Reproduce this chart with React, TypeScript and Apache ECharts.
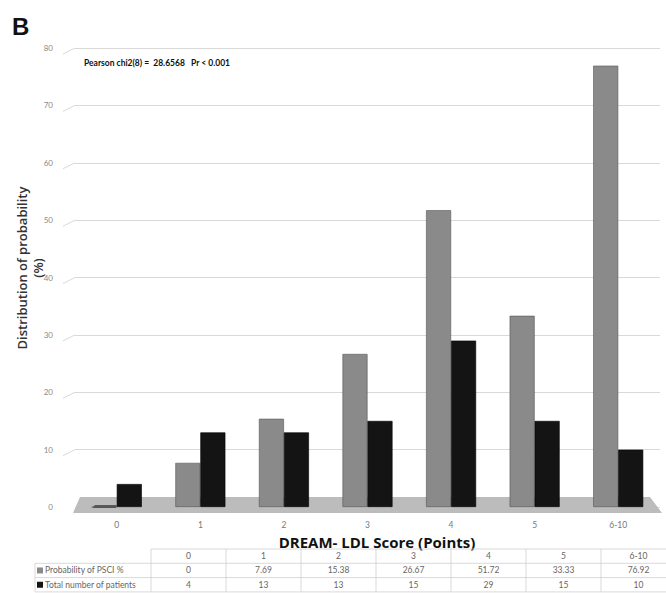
import React, { useEffect, useRef } from "react";
import * as echarts from "echarts";

const categories = ["0", "1", "2", "3", "4", "5", "6-10"];
const probabilityPSCI = [0, 7.69, 15.38, 26.67, 51.72, 33.33, 76.92];
const totalPatients = [4, 13, 13, 15, 29, 15, 10];
const seriesNames = ["Probability of PSCI %", "Total number of patients"];
const yTicks = [0, 10, 20, 30, 40, 50, 60, 70, 80];

const GRAY = "#8a8a8a";
const BLACK = "#141414";

export default function App() {
  const ref = useRef<HTMLDivElement>(null);
  useEffect(() => {
    if (!ref.current) return;
    const chart = echarts.init(ref.current, null, { renderer: "svg" });
    const gridLeft = 75;
    const gridRight = 6;
    const gridTop = 48;
    const gridBottom = 86;
    chart.setOption({
      animation: false,
      backgroundColor: "#ffffff",
      grid: { left: gridLeft, right: gridRight, top: gridTop, bottom: gridBottom },
      xAxis: {
        type: "category",
        data: categories,
        axisLine: { show: false },
        axisTick: { show: false },
        axisLabel: { color: "#777", fontSize: 8.5, margin: 13, fontFamily: "Lato" },
      },
      yAxis: {
        type: "value",
        min: 0,
        max: 80,
        interval: 10,
        axisLine: { show: false },
        axisTick: { show: false },
        axisLabel: { color: "#888", fontSize: 8, margin: 22, fontFamily: "Lato" },
        splitLine: { lineStyle: { color: "#d9d9d9", width: 1 } },
      },
      series: [
        {
          name: seriesNames[0],
          type: "bar",
          data: probabilityPSCI,
          barWidth: 25,
          barGap: "0%",
          z: 3,
          itemStyle: { color: GRAY, borderColor: "#555", borderWidth: 0.6 },
        },
        {
          name: seriesNames[1],
          type: "bar",
          data: totalPatients,
          barWidth: 25,
          barGap: "0%",
          z: 3,
          itemStyle: { color: BLACK, borderColor: "#000", borderWidth: 0.6 },
        },
      ],
    });

    const y0 = chart.convertToPixel({ yAxisIndex: 0 }, 0) as number;
    const xL = gridLeft;
    const xR = 666 - gridRight;
    const graphics: any[] = [];
    graphics.push({
      type: "polygon",
      z: 1,
      shape: {
        points: [
          [xL + 5, y0 - 10],
          [xR - 10, y0 - 10],
          [xR + 2, y0 + 6],
          [xL - 2, y0 + 6],
        ],
      },
      style: { fill: "#bcbcbc" },
    });
    yTicks.forEach((v) => {
      const y = chart.convertToPixel({ yAxisIndex: 0 }, v) as number;
      if (v === 0) return;
      graphics.push({
        type: "line",
        z: 1,
        shape: { x1: xL - 12, y1: y + 6, x2: xL, y2: y },
        style: { stroke: "#d9d9d9", lineWidth: 1 },
      });
    });
    const x0 = chart.convertToPixel({ xAxisIndex: 0 }, categories[0]) as number;
    graphics.push({
      type: "polygon",
      z: 2,
      shape: { points: [[x0 - 22, y0 - 2], [x0, y0 - 2], [x0 - 1, y0 + 1], [x0 - 24, y0 + 1]] },
      style: { fill: "#5a5a5a" },
    });
    graphics.push({
      type: "text",
      x: 12,
      y: 14,
      style: { text: "B", font: "bold 24px 'Liberation Sans', Arial, sans-serif", fill: "#111" },
    });
    graphics.push({
      type: "text",
      x: 84,
      y: 63,
      style: {
        text: "Pearson chi2(8) =  28.6568   Pr < 0.001",
        font: "bold 8.5px Lato, sans-serif",
        fill: "#111",
        textVerticalAlign: "middle",
      },
    });
    graphics.push({
      type: "text",
      x: 30,
      y: 268,
      rotation: Math.PI / 2,
      style: {
        text: "Distribution of probability\n(%)",
        font: "600 13px 'Open Sans', sans-serif",
        fill: "#333",
        align: "center",
        verticalAlign: "middle",
        lineHeight: 16,
      },
    });
    graphics.push({
      type: "text",
      x: 377,
      y: 542,
      style: {
        text: "DREAM- LDL Score (Points)",
        font: "bold 15px 'Open Sans', sans-serif",
        fill: "#111",
        align: "center",
        verticalAlign: "middle",
      },
    });
    const tL = 151;
    const colW = 75;
    const rowH = 14.3;
    const tTop = 549;
    const headL = 35;
    const lineStyle = { stroke: "#cfcfcf", lineWidth: 0.8 };
    graphics.push({ type: "line", shape: { x1: tL, y1: tTop, x2: 666, y2: tTop }, style: lineStyle });
    for (let r = 1; r <= 3; r++) {
      const y = tTop + r * rowH;
      graphics.push({ type: "line", shape: { x1: headL, y1: y, x2: 666, y2: y }, style: lineStyle });
    }
    graphics.push({ type: "line", shape: { x1: headL, y1: tTop + rowH, x2: headL, y2: tTop + 3 * rowH }, style: lineStyle });
    for (let c = 0; c <= categories.length; c++) {
      const x = tL + c * colW;
      graphics.push({ type: "line", shape: { x1: x, y1: tTop, x2: x, y2: tTop + 3 * rowH }, style: lineStyle });
    }
    const rows = [categories, probabilityPSCI.map(String), totalPatients.map(String)];
    rows.forEach((row, r) => {
      row.forEach((txt, c) => {
        graphics.push({
          type: "text",
          x: tL + c * colW + colW / 2,
          y: tTop + r * rowH + rowH / 2,
          style: {
            text: txt,
            font: "8.5px Lato, sans-serif",
            fill: "#666",
            align: "center",
            verticalAlign: "middle",
          },
        });
      });
    });
    seriesNames.forEach((name, i) => {
      const yc = tTop + (i + 1) * rowH + rowH / 2;
      graphics.push({
        type: "rect",
        shape: { x: headL + 2, y: yc - 3, width: 6, height: 6 },
        style: { fill: i === 0 ? GRAY : BLACK },
      });
      graphics.push({
        type: "text",
        x: headL + 10,
        y: yc,
        style: {
          text: name,
          font: "8.5px Lato, sans-serif",
          fill: "#666",
          verticalAlign: "middle",
        },
      });
    });
    chart.setOption({ graphic: graphics });
    return () => chart.dispose();
  }, []);
  return <div ref={ref} style={{ width: 666, height: 593, position: "absolute", left: 0, top: 0 }} />;
}
